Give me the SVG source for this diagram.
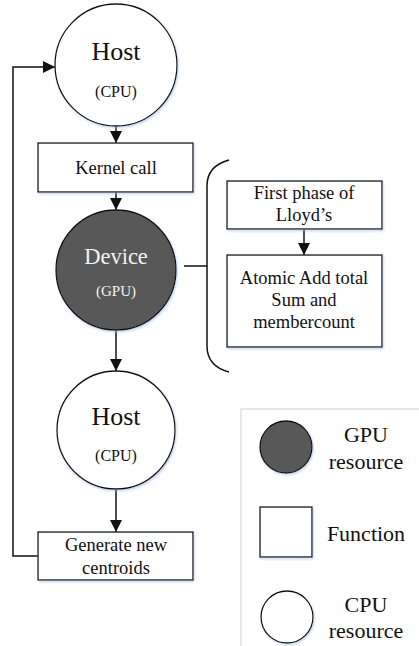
<svg xmlns="http://www.w3.org/2000/svg" width="419" height="646" viewBox="0 0 419 646">
<style>
text{font-family:"Liberation Serif","Times New Roman",serif;fill:#111;text-anchor:middle}
.shape{fill:#fff;stroke:#111;stroke-width:1.3;filter:url(#sh)}
.gpu{fill:#595959;stroke:#111;stroke-width:1.3;filter:url(#sh)}
.line{fill:none;stroke:#111;stroke-width:1.5}
.big{font-size:26px}
.mid{font-size:22.5px}
.sm{font-size:16px}
.smg{font-size:15px}
.box{font-size:18.5px}
.leg{font-size:22px}
.w{fill:#f2f2f2}
</style>
<defs>
<marker id="ah" viewBox="0 0 10 10" refX="10" refY="5" markerWidth="12" markerHeight="12" markerUnits="userSpaceOnUse" orient="auto">
<path d="M0,0 L10,5 L0,10 z" fill="#111"/>
</marker>
<filter id="sh" x="-10%" y="-10%" width="130%" height="130%">
<feDropShadow dx="1" dy="1.5" stdDeviation="1" flood-color="#9fb8dc" flood-opacity="0.6"/>
</filter>
</defs>
<g id="connectors">
<line class="line" x1="116" y1="126" x2="116" y2="143" marker-end="url(#ah)"/>
<line class="line" x1="116" y1="192" x2="116" y2="210" marker-end="url(#ah)"/>
<line class="line" x1="116" y1="330" x2="116" y2="371" marker-end="url(#ah)"/>
<line class="line" x1="116" y1="489" x2="116" y2="532" marker-end="url(#ah)"/>
<polyline class="line" points="38,556 13,556 13,67 55,67" marker-end="url(#ah)"/>
<line class="line" x1="304" y1="229" x2="304" y2="255" marker-end="url(#ah)"/>
<line class="line" x1="184" y1="266" x2="207" y2="266"/>
<path class="line" d="M229,160 C214,164 207,172 207,186 L207,346 C207,360 214,368 229,372"/>
</g>
<g id="host1">
<circle class="shape" cx="116" cy="65" r="61"/>
<text class="big" x="116" y="60">Host</text>
<text class="sm" x="116" y="97">(CPU)</text>
</g>
<g id="kernel">
<rect class="shape" x="38" y="143" width="155" height="49"/>
<text class="box" x="116" y="174">Kernel call</text>
</g>
<g id="device">
<circle class="gpu" cx="116" cy="270" r="60"/>
<text class="mid w" x="116" y="264">Device</text>
<text class="smg w" x="116" y="296">(GPU)</text>
</g>
<g id="host2">
<circle class="shape" cx="116" cy="430" r="59"/>
<text class="big" x="116" y="425">Host</text>
<text class="sm" x="116" y="461">(CPU)</text>
</g>
<g id="generate">
<rect class="shape" x="38" y="532" width="155" height="48"/>
<text class="box" x="116" y="551">Generate new</text>
<text class="box" x="116" y="574">centroids</text>
</g>
<g id="firstphase">
<rect class="shape" x="227" y="181" width="155" height="48"/>
<text class="box" x="304" y="199">First phase of</text>
<text class="box" x="304" y="221">Lloyd’s</text>
</g>
<g id="atomic">
<rect class="shape" x="227" y="255" width="155" height="92"/>
<text class="box" x="304" y="284">Atomic Add total</text>
<text class="box" x="304" y="306">Sum and</text>
<text class="box" x="304" y="328">membercount</text>
</g>
<g id="legend">
<rect x="241" y="409" width="190" height="240" fill="#fff" stroke="#d0d0d0" stroke-width="1"/>
<circle class="gpu" cx="286" cy="447" r="26"/>
<text class="leg" x="366" y="442">GPU</text>
<text class="leg" x="366" y="469">resource</text>
<rect class="shape" x="260" y="507" width="52" height="50"/>
<text class="leg" x="366" y="541">Function</text>
<circle class="shape" cx="287" cy="617" r="26"/>
<text class="leg" x="366" y="612">CPU</text>
<text class="leg" x="366" y="638">resource</text>
</g>
</svg>
